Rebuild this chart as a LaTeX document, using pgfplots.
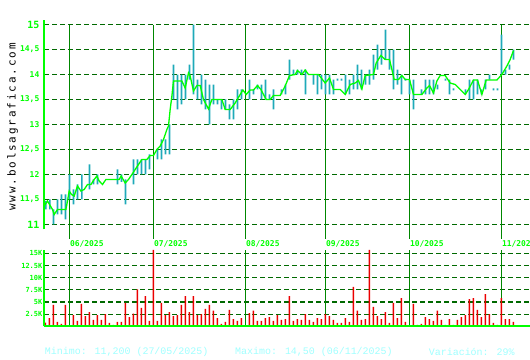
\documentclass[border=0pt]{standalone}
\usepackage{pgfplots}
\pgfplotsset{compat=1.18}
\usepackage{fontspec}
\newfontfamily\labfont{DejaVu Sans Mono}
\newfontfamily\botfont{Liberation Mono}
\newfontfamily\wwwfont{DejaVu Sans Mono}[LetterSpace=17]
\definecolor{lime}{RGB}{0,255,0}
\definecolor{mgreen}{RGB}{0,135,0}
\definecolor{dgreen}{RGB}{0,105,0}
\definecolor{cyanbar}{RGB}{30,170,185}
\definecolor{volred}{RGB}{235,0,0}
\definecolor{txtcyan}{RGB}{160,255,255}
\newcommand{\bignum}[1]{{\fontsize{10}{10}\selectfont #1}}
\begin{document}
\begin{tikzpicture}
% ---------------- price chart ----------------
\begin{axis}[
  scale only axis, width=486bp, height=210bp,
  at={(44bp,130.5bp)}, anchor=south west,
  xmin=-0.0425, xmax=121.4575, ymin=10.9, ymax=15.1,
  axis line style={draw=none}, tick style={draw=none}, major tick length=0pt,
  xtick=\empty,
  ytick={11,11.5,12,12.5,13,13.5,14,14.5,15},
  yticklabels={\bignum{11},{11,5},12,{12,5},13,{13,5},14,{14,5},\bignum{15}},
  yticklabel style={font=\labfont\bfseries\fontsize{8}{8}\selectfont, text=lime, anchor=east, inner sep=0pt, xshift=-4.5bp},
  ymajorgrids, grid style={dgreen, dash pattern=on 5bp off 3bp, line width=1.1bp},
  clip=false, unbounded coords=jump,
]
\fill[mgreen] ([xshift=-0.6bp]axis cs:6.33,15) rectangle ([xshift=0.6bp]axis cs:6.33,10.7);
\fill[mgreen] ([xshift=-0.6bp]axis cs:27.33,15) rectangle ([xshift=0.6bp]axis cs:27.33,10.7);
\fill[mgreen] ([xshift=-0.6bp]axis cs:50.33,15) rectangle ([xshift=0.6bp]axis cs:50.33,10.7);
\fill[mgreen] ([xshift=-0.6bp]axis cs:70.33,15) rectangle ([xshift=0.6bp]axis cs:70.33,10.7);
\fill[mgreen] ([xshift=-0.6bp]axis cs:91.33,15) rectangle ([xshift=0.6bp]axis cs:91.33,10.7);
\fill[mgreen] ([xshift=-0.6bp]axis cs:114.33,15) rectangle ([xshift=0.6bp]axis cs:114.33,10.7);
\draw[lime, line width=1.2bp] (rel axis cs:0,0) -- (rel axis cs:0,1);
% high-low bars as filled rectangles (day +/- 0.2), separated by nan
\addplot[fill=cyanbar, draw=none, mark=none, forget plot] table {
x y
0.23 11.30
0.63 11.30
0.63 11.47
0.23 11.47
0.23 nan
1.23 11.30
1.63 11.30
1.63 11.50
1.23 11.50
1.23 nan
2.13 11.00
2.53 11.00
2.53 11.30
2.13 11.30
2.13 nan
3.13 11.20
3.53 11.20
3.53 11.50
3.13 11.50
3.13 nan
4.13 11.20
4.53 11.20
4.53 11.60
4.13 11.60
4.13 nan
5.13 11.10
5.53 11.10
5.53 11.60
5.13 11.60
5.13 nan
6.13 11.50
6.53 11.50
6.53 12.00
6.13 12.00
6.13 nan
7.13 11.40
7.53 11.40
7.53 11.70
7.13 11.70
7.13 nan
8.13 11.50
8.53 11.50
8.53 11.80
8.13 11.80
8.13 nan
9.23 11.50
9.63 11.50
9.63 12.00
9.23 12.00
9.23 nan
11.13 11.70
11.53 11.70
11.53 12.20
11.13 12.20
11.13 nan
12.13 11.80
12.53 11.80
12.53 11.90
12.13 11.90
12.13 nan
13.13 11.80
13.53 11.80
13.53 12.00
13.13 12.00
13.13 nan
18.13 11.80
18.53 11.80
18.53 12.10
18.13 12.10
18.13 nan
19.13 11.85
19.53 11.85
19.53 12.00
19.13 12.00
19.13 nan
20.13 11.40
20.53 11.40
20.53 11.90
20.13 11.90
20.13 nan
22.13 11.80
22.53 11.80
22.53 12.30
22.13 12.30
22.13 nan
23.13 12.00
23.53 12.00
23.53 12.30
23.13 12.30
23.13 nan
24.13 12.00
24.53 12.00
24.53 12.30
24.13 12.30
24.13 nan
25.13 12.00
25.53 12.00
25.53 12.30
25.13 12.30
25.13 nan
26.13 12.10
26.53 12.10
26.53 12.40
26.13 12.40
26.13 nan
28.13 12.30
28.53 12.30
28.53 12.50
28.13 12.50
28.13 nan
29.13 12.30
29.53 12.30
29.53 12.70
29.13 12.70
29.13 nan
30.13 12.40
30.53 12.40
30.53 12.70
30.13 12.70
30.13 nan
31.13 12.40
31.53 12.40
31.53 13.00
31.13 13.00
31.13 nan
32.13 13.50
32.53 13.50
32.53 14.20
32.13 14.20
32.13 nan
33.13 13.30
33.53 13.30
33.53 14.00
33.13 14.00
33.13 nan
34.13 13.40
34.53 13.40
34.53 14.00
34.13 14.00
34.13 nan
35.13 13.50
35.53 13.50
35.53 14.00
35.13 14.00
35.13 nan
36.13 13.90
36.53 13.90
36.53 14.20
36.13 14.20
36.13 nan
37.13 13.60
37.53 13.60
37.53 15.00
37.13 15.00
37.13 nan
38.13 13.50
38.53 13.50
38.53 13.90
38.13 13.90
38.13 nan
39.13 13.40
39.53 13.40
39.53 14.00
39.13 14.00
39.13 nan
40.13 13.30
40.53 13.30
40.53 13.90
40.13 13.90
40.13 nan
41.13 13.00
41.53 13.00
41.53 13.80
41.13 13.80
41.13 nan
42.13 13.40
42.53 13.40
42.53 13.80
42.13 13.80
42.13 nan
43.13 13.40
43.53 13.40
43.53 13.50
43.13 13.50
43.13 nan
44.13 13.30
44.53 13.30
44.53 13.50
44.13 13.50
44.13 nan
45.13 13.30
45.53 13.30
45.53 13.50
45.13 13.50
45.13 nan
46.13 13.10
46.53 13.10
46.53 13.40
46.13 13.40
46.13 nan
47.13 13.10
47.53 13.10
47.53 13.50
47.13 13.50
47.13 nan
48.13 13.30
48.53 13.30
48.53 13.70
48.13 13.70
48.13 nan
49.13 13.50
49.53 13.50
49.53 13.70
49.13 13.70
49.13 nan
51.13 13.50
51.53 13.50
51.53 13.90
51.13 13.90
51.13 nan
52.13 13.60
52.53 13.60
52.53 13.70
52.13 13.70
52.13 nan
53.13 13.70
53.53 13.70
53.53 13.80
53.13 13.80
53.13 nan
54.13 13.50
54.53 13.50
54.53 13.80
54.13 13.80
54.13 nan
55.13 13.50
55.53 13.50
55.53 13.90
55.13 13.90
55.13 nan
56.13 13.50
56.53 13.50
56.53 13.60
56.13 13.60
56.13 nan
57.13 13.30
57.53 13.30
57.53 13.70
57.13 13.70
57.13 nan
59.13 13.60
59.53 13.60
59.53 13.70
59.13 13.70
59.13 nan
60.13 13.60
60.53 13.60
60.53 13.80
60.13 13.80
60.13 nan
61.13 13.90
61.53 13.90
61.53 14.30
61.13 14.30
61.13 nan
62.13 14.00
62.53 14.00
62.53 14.10
62.13 14.10
62.13 nan
63.13 14.00
63.53 14.00
63.53 14.10
63.13 14.10
63.13 nan
64.13 14.00
64.53 14.00
64.53 14.10
64.13 14.10
64.13 nan
65.13 13.60
65.53 13.60
65.53 14.10
65.13 14.10
65.13 nan
67.13 13.80
67.53 13.80
67.53 14.00
67.13 14.00
67.13 nan
68.13 13.60
68.53 13.60
68.53 14.00
68.13 14.00
68.13 nan
69.13 13.70
69.53 13.70
69.53 14.00
69.13 14.00
69.13 nan
70.13 13.60
70.53 13.60
70.53 14.00
70.13 14.00
70.13 nan
71.13 13.60
71.53 13.60
71.53 14.00
71.13 14.00
71.13 nan
72.13 13.60
72.53 13.60
72.53 13.90
72.13 13.90
72.13 nan
73.13 13.88
73.53 13.88
73.53 13.92
73.13 13.92
73.13 nan
74.13 13.88
74.53 13.88
74.53 13.92
74.13 13.92
74.13 nan
75.13 13.60
75.53 13.60
75.53 14.00
75.13 14.00
75.13 nan
76.13 13.60
76.53 13.60
76.53 13.90
76.13 13.90
76.13 nan
77.13 13.70
77.53 13.70
77.53 14.00
77.13 14.00
77.13 nan
78.13 13.70
78.53 13.70
78.53 14.20
78.13 14.20
78.13 nan
79.13 13.70
79.53 13.70
79.53 14.10
79.13 14.10
79.13 nan
80.13 13.80
80.53 13.80
80.53 14.00
80.13 14.00
80.13 nan
81.13 13.80
81.53 13.80
81.53 14.10
81.13 14.10
81.13 nan
82.13 13.90
82.53 13.90
82.53 14.40
82.13 14.40
82.13 nan
83.13 14.10
83.53 14.10
83.53 14.60
83.13 14.60
83.13 nan
84.13 14.20
84.53 14.20
84.53 14.50
84.13 14.50
84.13 nan
85.13 14.30
85.53 14.30
85.53 14.90
85.13 14.90
85.13 nan
86.13 14.10
86.53 14.10
86.53 14.50
86.13 14.50
86.13 nan
87.13 13.70
87.53 13.70
87.53 14.50
87.13 14.50
87.13 nan
88.13 13.80
88.53 13.80
88.53 14.10
88.13 14.10
88.13 nan
89.13 13.60
89.53 13.60
89.53 14.00
89.13 14.00
89.13 nan
90.13 13.88
90.53 13.88
90.53 13.92
90.13 13.92
90.13 nan
91.13 13.60
91.53 13.60
91.53 13.90
91.13 13.90
91.13 nan
92.13 13.30
92.53 13.30
92.53 13.90
92.13 13.90
92.13 nan
94.13 13.60
94.53 13.60
94.53 13.70
94.13 13.70
94.13 nan
95.13 13.60
95.53 13.60
95.53 13.90
95.13 13.90
95.13 nan
96.13 13.60
96.53 13.60
96.53 13.90
96.13 13.90
96.13 nan
97.13 13.60
97.53 13.60
97.53 13.90
97.13 13.90
97.13 nan
98.13 13.70
98.53 13.70
98.53 13.80
98.13 13.80
98.13 nan
100.13 13.88
100.53 13.88
100.53 13.92
100.13 13.92
100.13 nan
101.13 13.60
101.53 13.60
101.53 13.90
101.13 13.90
101.13 nan
102.13 13.68
102.53 13.68
102.53 13.72
102.13 13.72
102.13 nan
105.13 13.60
105.53 13.60
105.53 13.70
105.13 13.70
105.13 nan
106.13 13.50
106.53 13.50
106.53 13.90
106.13 13.90
106.13 nan
107.13 13.50
107.53 13.50
107.53 13.90
107.13 13.90
107.13 nan
108.13 13.60
108.53 13.60
108.53 13.90
108.13 13.90
108.13 nan
109.13 13.60
109.53 13.60
109.53 13.70
109.13 13.70
109.13 nan
110.13 13.70
110.53 13.70
110.53 13.90
110.13 13.90
110.13 nan
111.13 13.90
111.53 13.90
111.53 14.00
111.13 14.00
111.13 nan
112.13 13.68
112.53 13.68
112.53 13.72
112.13 13.72
112.13 nan
113.13 13.68
113.53 13.68
113.53 13.72
113.13 13.72
113.13 nan
114.13 14.00
114.53 14.00
114.53 14.80
114.13 14.80
114.13 nan
115.13 14.00
115.53 14.00
115.53 14.10
115.13 14.10
115.13 nan
116.13 14.10
116.53 14.10
116.53 14.20
116.13 14.20
116.13 nan
117.13 14.30
117.53 14.30
117.53 14.50
117.13 14.50
};
\addplot[lime, line width=1.3bp, mark=none] table {
x y
0 11.37
0.83 11.47
2.08 11.30
2.5 11.20
3.33 11.30
5.43 11.30
5.83 11.47
6.25 11.67
6.83 11.60
7.5 11.57
8.33 11.77
9.18 11.67
10 11.70
10.83 11.80
11.68 11.80
12.5 11.90
13.18 11.97
13.75 11.87
14.58 11.80
15.43 11.90
18.75 11.90
19.25 11.97
20.25 11.83
21.08 11.90
21.93 12.00
22.75 12.10
23.58 12.20
24.43 12.30
25.68 12.30
26.5 12.38
27.33 12.38
28.18 12.50
29 12.57
29.83 12.70
30.68 12.90
31.08 12.97
31.5 13.30
31.93 13.57
32.33 13.87
34.43 13.87
35.25 13.73
36.08 14.03
36.5 13.97
37.33 13.67
38.18 13.78
39 13.78
39.83 13.50
41.08 13.31
41.93 13.50
44.43 13.50
45.25 13.30
46.5 13.30
47.75 13.43
49 13.60
49.68 13.69
50.5 13.60
51.5 13.69
52.33 13.69
53.33 13.78
54.18 13.70
55.5 13.50
56.5 13.50
57.33 13.58
59 13.58
60.25 13.77
61.33 13.98
62.75 14.00
63.33 14.08
64.43 14.00
65.25 14.09
66.08 14.00
68.58 14.00
70.25 13.83
71.33 13.93
72.33 13.70
74 13.70
75.25 13.60
76.5 13.80
77.75 13.83
78.58 13.88
79.43 13.71
80.25 13.98
82.33 14.00
83 14.23
84.18 14.38
85.25 14.30
86.33 14.30
86.93 14.10
87.5 13.90
88.58 13.90
89.43 13.98
90.25 13.90
91.33 13.90
92.33 13.60
94.43 13.60
95.68 13.73
96.33 13.78
97.33 13.63
98.18 13.87
99 13.98
100.25 13.98
101.5 13.83
102.75 13.80
104 13.70
105.25 13.60
106.08 13.70
107.33 13.89
108.33 13.89
109.43 13.60
110.5 13.89
113.18 13.89
114.43 14.00
115.68 14.17
116.5 14.30
117.33 14.48
};
\end{axis}
% ---------------- volume chart ----------------
\begin{axis}[
  scale only axis, width=486bp, height=76.3bp,
  at={(44bp,33.7bp)}, anchor=south west,
  xmin=-0.0425, xmax=121.4575, ymin=0, ymax=15.7,
  axis line style={draw=none}, tick style={draw=none}, major tick length=0pt,
  xtick=\empty,
  ytick={2.5,5,7.5,10,12.5,15},
  yticklabels={2.5K,5K,7.5K,10K,12.5K,15K},
  yticklabel style={font=\labfont\bfseries\fontsize{7}{7}\selectfont, text=lime, anchor=east, inner sep=0pt, xshift=-1.5bp},
  ymajorgrids, grid style={dgreen, dash pattern=on 5bp off 3bp, line width=1.1bp},
  clip=false,
]
\fill[mgreen] ([xshift=-0.6bp]axis cs:6.33,0) rectangle ([xshift=0.6bp]axis cs:6.33,15.7);
\fill[mgreen] ([xshift=-0.6bp]axis cs:27.33,0) rectangle ([xshift=0.6bp]axis cs:27.33,15.7);
\fill[mgreen] ([xshift=-0.6bp]axis cs:50.33,0) rectangle ([xshift=0.6bp]axis cs:50.33,15.7);
\fill[mgreen] ([xshift=-0.6bp]axis cs:70.33,0) rectangle ([xshift=0.6bp]axis cs:70.33,15.7);
\fill[mgreen] ([xshift=-0.6bp]axis cs:91.33,0) rectangle ([xshift=0.6bp]axis cs:91.33,15.7);
\fill[mgreen] ([xshift=-0.6bp]axis cs:114.33,0) rectangle ([xshift=0.6bp]axis cs:114.33,15.7);
\addplot[ybar, bar width=1.5bp, bar shift=0pt, fill=volred, draw=none, mark=none] table {
x v
0.33 0.75
1.33 1.7
2.33 4.4
3.33 0.9
4.33 0.5
5.33 4.4
7.33 2.3
8.33 1.1
9.33 4.6
10.33 2.1
11.33 2.9
12.33 1.3
13.33 2.3
14.33 1.3
15.33 2.5
16.33 0.7
17.33 0.3
18.33 0.9
19.33 0.9
20.33 4.8
21.33 1.9
22.33 2.6
23.33 7.6
24.33 3.8
25.33 6.2
26.33 1.1
27.33 15.7
28.33 1.1
29.33 4.8
30.33 2.3
31.33 2.9
32.33 2.1
33.33 2.3
34.33 4.4
35.33 6.2
36.33 2.9
37.33 6.2
38.33 2.3
39.33 2.5
40.33 3.6
41.33 4.4
42.33 3.2
43.33 1.7
44.33 0.5
45.33 0.9
46.33 3.4
47.33 1.5
48.33 1.1
49.33 1.7
51.33 2.7
52.33 3.2
53.33 1.1
54.33 1.1
55.33 1.7
56.33 1.9
57.33 1.1
58.33 2.3
59.33 1.3
60.33 1.5
61.33 6.2
62.33 1.1
63.33 1.5
64.33 1.3
65.33 2.5
66.33 1.3
67.33 0.9
68.33 1.7
69.33 1.5
70.33 2.5
71.33 2.1
72.33 1.3
73.33 0.7
74.33 0.7
75.33 1.7
76.33 0.9
77.33 8.1
78.33 3.2
79.33 1.3
80.33 1.5
81.33 15.7
82.33 4.0
83.33 2.1
84.33 1.5
85.33 2.9
86.33 0.7
87.33 4.8
88.33 1.7
89.33 5.8
90.33 0.9
92.33 4.6
93.33 0.3
94.33 0.5
95.33 1.9
96.33 1.5
97.33 1.1
98.33 3.2
99.33 1.3
100.33 0.3
101.33 1.5
102.33 0.3
103.33 1.3
104.33 1.9
105.33 2.3
106.33 5.6
107.33 5.8
108.33 3.4
109.33 1.9
110.33 6.6
111.33 2.5
112.33 0.7
113.33 0.3
114.33 5.8
115.33 1.5
116.33 1.5
117.33 0.9
};
\draw[lime, line width=1.6bp] (axis cs:-0.0425,0) -- (axis cs:121.4575,0);
\draw[lime, line width=1.2bp] (axis cs:-0.0425,0) -- (axis cs:-0.0425,15.7);
\end{axis}
% ---------------- texts ----------------
\begin{scope}[every node/.style={inner sep=0pt, anchor=west, text=lime, font=\labfont\bfseries\fontsize{8}{8}\selectfont}]
\node at (69.8bp,116bp) {06/2025};
\node at (153.8bp,116bp) {07/2025};
\node at (245.8bp,116bp) {08/2025};
\node at (325.8bp,116bp) {09/2025};
\node at (409.8bp,116bp) {10/2025};
\node at (501.8bp,116bp) {11/2025};
\end{scope}
\node[rotate=90, inner sep=0pt, text=black, font=\wwwfont\fontsize{11}{11}\selectfont] at (12.5bp,233bp) {www.bolsagrafica.com};
\begin{scope}[every node/.style={inner sep=0pt, anchor=west, text=txtcyan, font=\botfont\fontsize{10}{10}\selectfont}]
\node at (44.7bp,8bp) {Minimo: 11,200 (27/05/2025)};
\node at (235bp,8bp) {Maximo: 14,50 (06/11/2025)};
\node at (428.7bp,8bp) {Variación: 29\%};
\end{scope}
\pgfresetboundingbox
\path[use as bounding box] (0bp,0bp) rectangle (530bp,360bp);
\end{tikzpicture}
\end{document}
